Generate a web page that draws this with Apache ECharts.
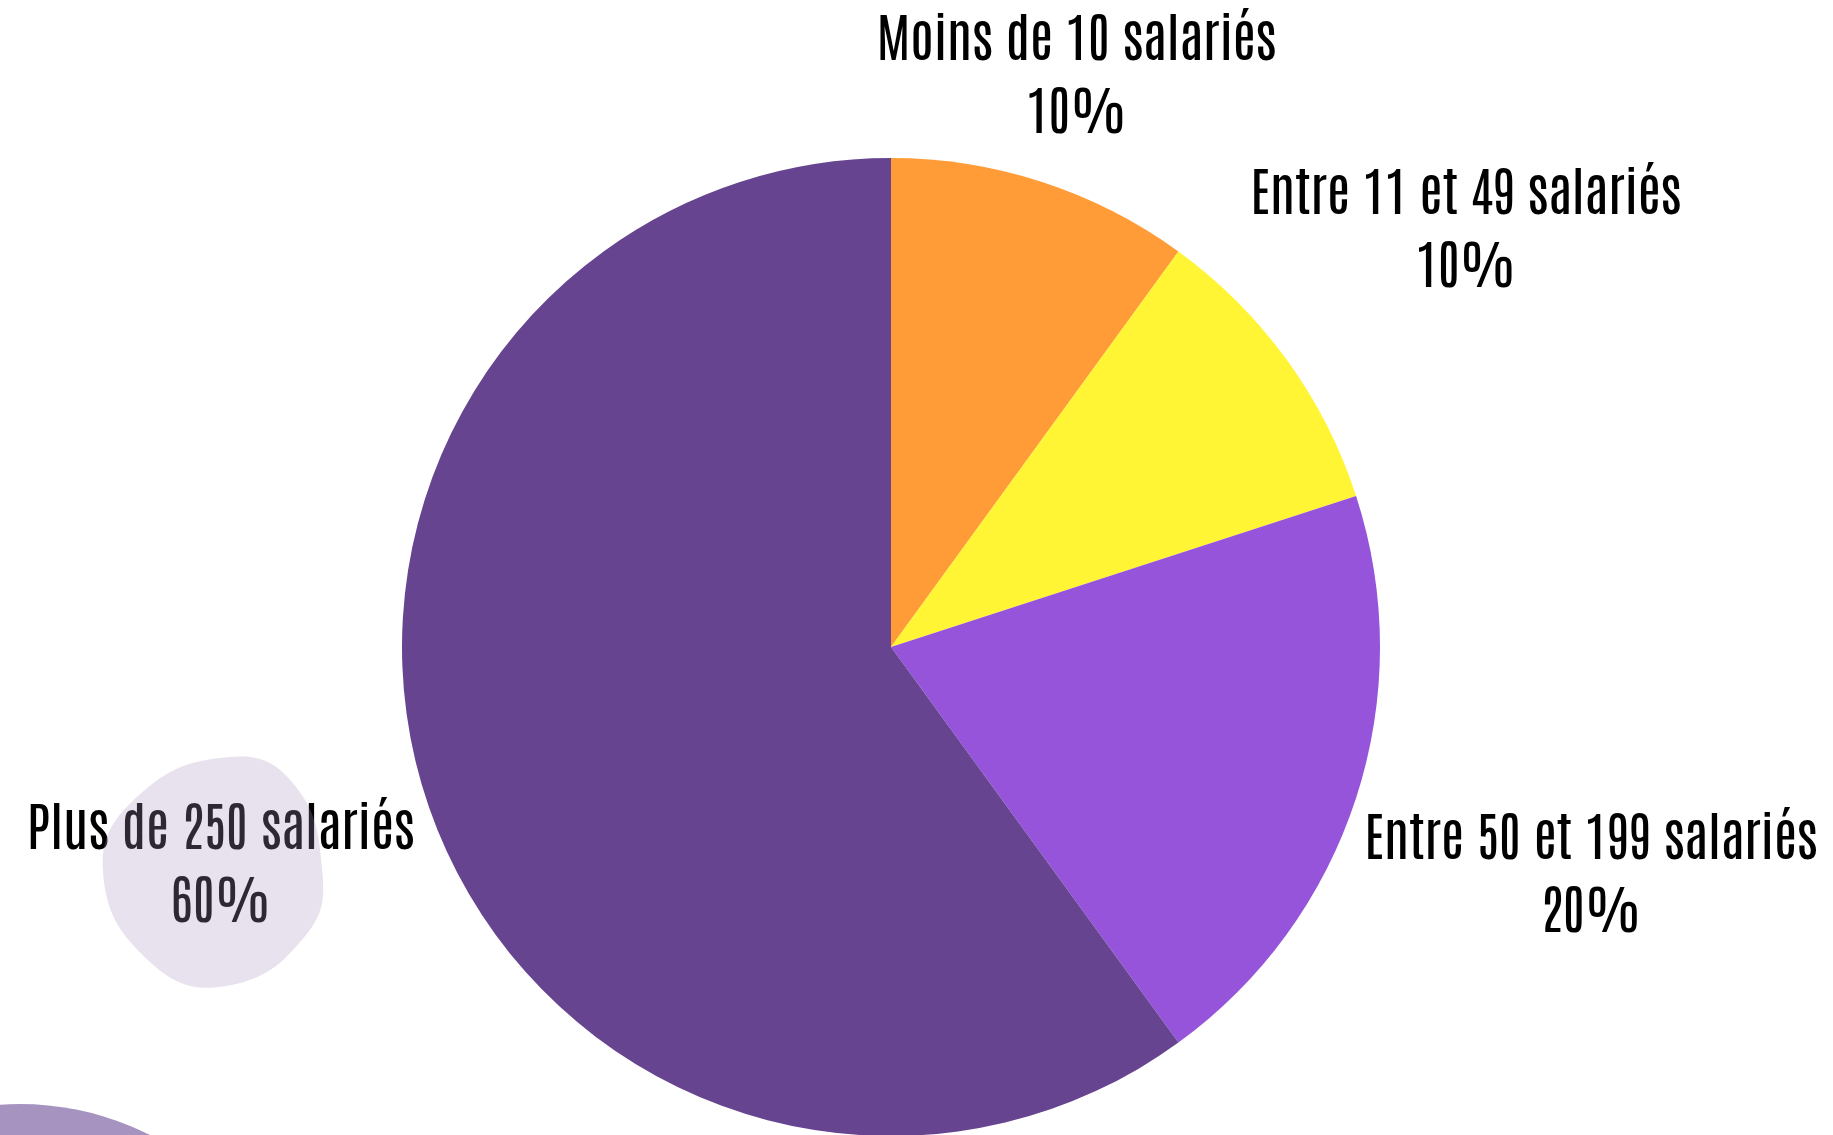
<!DOCTYPE html>
<html>
<head>
<meta charset="utf-8">
<script src="https://cdn.jsdelivr.net/npm/echarts@6/dist/echarts.min.js"></script>
<style>html,body{margin:0;padding:0;background:#fff;}#chart{width:1833px;height:1135px;}</style>
</head>
<body>
<div id="chart"></div>
<script>
// Data
const categories = ['Moins de 10 salariés', 'Entre 11 et 49 salariés', 'Entre 50 et 199 salariés', 'Plus de 250 salariés'];
const values = [10, 10, 20, 60];
const colors = ['#FF9C38', '#FFF534', '#9554DA', '#66448F'];

// Layout constants
const CX = 891, CY = 647, R = 489, GAP = 9;

const total = values.reduce((a, b) => a + b, 0);
const midAngles = [];
(function () {
  let acc = 0;
  values.forEach(v => {
    midAngles.push((acc + v / 2) / total * Math.PI * 2);
    acc += v;
  });
})();

const blobPts = [[230, 757], [292, 782], [322, 868], [306, 935], [226, 986], [150, 962], [103, 872], [138, 796]];

function placeLabel(p) {
  const a = midAngles[p.dataIndex];
  const dx = Math.sin(a), dy = -Math.cos(a);
  const w = p.labelRect.width / 2, h = p.labelRect.height / 2;
  const target = R + GAP;
  let lo = 0, hi = 2000;
  for (let k = 0; k < 60; k++) {
    const t = (lo + hi) / 2;
    const bx = dx * t, by = dy * t;
    const ex = Math.max(0, Math.abs(bx) - w), ey = Math.max(0, Math.abs(by) - h);
    if (Math.sqrt(ex * ex + ey * ey) < target) lo = t; else hi = t;
  }
  return { x: CX + dx * lo, y: CY + dy * lo, align: 'center', verticalAlign: 'middle' };
}

const chart = echarts.init(document.getElementById('chart'), null, { renderer: 'canvas' });
chart.setOption({
  backgroundColor: '#ffffff',
  animation: false,
  graphic: [
    { type: 'circle', z: -10, shape: { cx: 20, cy: 1392, r: 288 }, style: { fill: '#A693C0' }, silent: true },
    { type: 'polygon', z: 100, shape: { points: blobPts, smooth: 0.45 }, style: { fill: 'rgba(166,147,192,0.27)' }, silent: true }
  ],
  series: [{
    type: 'pie',
    center: [CX, CY],
    radius: R,
    startAngle: 90,
    clockwise: true,
    avoidLabelOverlap: false,
    data: categories.map((n, i) => ({ name: n, value: values[i], itemStyle: { color: colors[i] } })),
    itemStyle: { borderWidth: 0 },
    label: {
      show: true,
      position: 'outside',
      formatter: '{b}\n{c}%',
      color: '#000000',
      fontFamily: 'Antonio',
      fontSize: 53,
      lineHeight: 73
    },
    labelLine: { show: false },
    labelLayout: placeLabel,
    emphasis: { disabled: true }
  }]
});
</script>
</body>
</html>
